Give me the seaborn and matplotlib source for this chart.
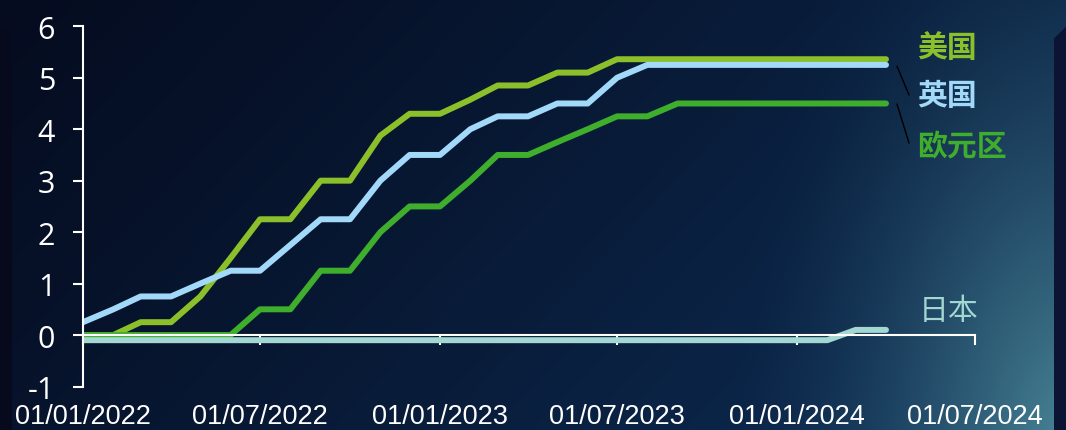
import matplotlib
matplotlib.use("Agg")
import matplotlib.pyplot as plt
import matplotlib.dates as mdates
from matplotlib.transforms import offset_copy
from matplotlib.colors import to_rgb
import numpy as np
import pandas as pd
import seaborn as sns

# monthly policy rates, Jan 2022 - Apr 2024
months = pd.date_range("2022-01-01", "2024-04-01", freq="MS")
us = [0, 0, 0.25, 0.25, 0.75, 1.5, 2.25, 2.25, 3.0, 3.0, 3.875, 4.3, 4.3, 4.575,
      4.85, 4.85, 5.1, 5.1] + [5.36] * 10
uk = [0.25, 0.5, 0.75, 0.75, 1.0, 1.25, 1.25, 1.75, 2.25, 2.25, 3.0, 3.5, 3.5, 4.0,
      4.25, 4.25, 4.5, 4.5, 5.0] + [5.25] * 9
ez = [0, 0, 0, 0, 0, 0, 0.5, 0.5, 1.25, 1.25, 2.0, 2.5, 2.5, 3.0, 3.5, 3.5, 3.75,
      4.0, 4.25, 4.25] + [4.5] * 8
jp = [-0.1] * 26 + [0.1, 0.1]

names = ["美国", "英国", "欧元区", "日本"]
palette = {"美国": "#8cc02a", "英国": "#a2d9f9", "欧元区": "#3fae2c", "日本": "#a3d7d2"}

x_ticks = pd.to_datetime(["2022-01-01", "2022-07-01", "2023-01-01",
                          "2023-07-01", "2024-01-01", "2024-07-01"])
x_labels = ["01/01/2022", "01/07/2022", "01/01/2023",
            "01/07/2023", "01/01/2024", "01/07/2024"]
y_ticks = list(range(-1, 7))

df = pd.DataFrame({
    "date": np.tile(months, 4),
    "rate": us + uk + ez + jp,
    "country": np.repeat(names, len(months)),
})

sns.set_theme(style="ticks")
plt.rcParams["font.family"] = ["Noto Sans CJK SC", "DejaVu Sans"]
plt.rcParams["axes.unicode_minus"] = False

W, H = 1066, 431
fig = plt.figure(figsize=(W / 100, H / 100), dpi=100)

# slide-style background: dark navy with a teal glow at the bottom right
yy, xx = np.mgrid[0:H, 0:W].astype(float)
c0, c1, cg = (np.array(to_rgb(c)) for c in ("#050c20", "#0d2e56", "#4a8696"))
u = np.clip(0.72 * xx / 1054 + 0.28 * yy / H, 0, 1) ** 1.2
img = c0 + (c1 - c0) * u[..., None]
d = np.sqrt(((xx - 1070) / 340) ** 2 + ((yy - 450) / 620) ** 2)
g = np.clip(1 - d, 0, 1) ** 1.7
img = img * (1 - g[..., None]) + cg * g[..., None]
band = (xx >= 1054) & (yy > 38 - (xx - 1054) * 0.92)
img[band] = to_rgb("#0b1433")
img[(xx < 12) & (yy > 30)] = to_rgb("#060a1c")
bg = fig.add_axes([0, 0, 1, 1], zorder=-10)
bg.imshow(img, aspect="auto", interpolation="bilinear")
bg.axis("off")

ax = fig.add_axes([83 / W, 1 - 387.5 / H, 892 / W, 360.2 / H])
ax.patch.set_alpha(0)

sns.lineplot(data=df, x="date", y="rate", hue="country", hue_order=names,
             palette=palette, estimator=None, sort=False, legend=False,
             lw=4.3, solid_capstyle="round", ax=ax)

ax.set_xlim(x_ticks[0], x_ticks[-1])
ax.set_ylim(-1, 6)
ax.set_xticks(x_ticks)
ax.set_xticklabels(x_labels)
ax.set_yticks(y_ticks)
ax.set_xlabel("")
ax.set_ylabel("")

for side in ["top", "right"]:
    ax.spines[side].set_visible(False)
ax.spines["bottom"].set_position(("data", 0))
for side in ["left", "bottom"]:
    ax.spines[side].set_color("white")
    ax.spines[side].set_linewidth(1.5)

ax.tick_params(axis="both", colors="white", width=1.5, length=7, direction="out")
ax.tick_params(axis="y", pad=13)
ax.tick_params(axis="x", pad=42)
for lab in ax.get_yticklabels():
    lab.set_family(["Open Sans", "DejaVu Sans"])
    lab.set_fontsize(22)
for lab in ax.get_xticklabels():
    lab.set_family(["Liberation Sans", "DejaVu Sans"])
    lab.set_fontsize(19.5)

# series labels at the line ends
label_pos = {"美国": (22.3, 9), "英国": (22.3, -21.7), "欧元区": (22.3, -30.7), "日本": (23.8, 13.7)}
ends = {"美国": us[-1], "英国": uk[-1], "欧元区": ez[-1], "日本": jp[-1]}
for name in names:
    ax.annotate(name, xy=(months[-1], ends[name]), xytext=label_pos[name],
                textcoords="offset points", ha="left", va="center",
                color=palette[name], fontsize=21.5,
                fontweight="medium" if name == "日本" else "bold")

# thin leader lines for the crowded labels
xe = mdates.date2num(months[-1])
for val, dy_start, dy in [(uk[-1], -0.9, -20.8), (ez[-1], -0.4, -28.1)]:
    tr = offset_copy(ax.transData, fig=fig, x=7.9, y=dy_start, units="points")
    ax.annotate("", xy=(xe, val), xycoords=tr, xytext=(8.7, dy),
                textcoords="offset points",
                arrowprops=dict(arrowstyle="-", color="black", lw=1,
                                shrinkA=0, shrinkB=0))

fig.savefig("out.png", dpi=100)
